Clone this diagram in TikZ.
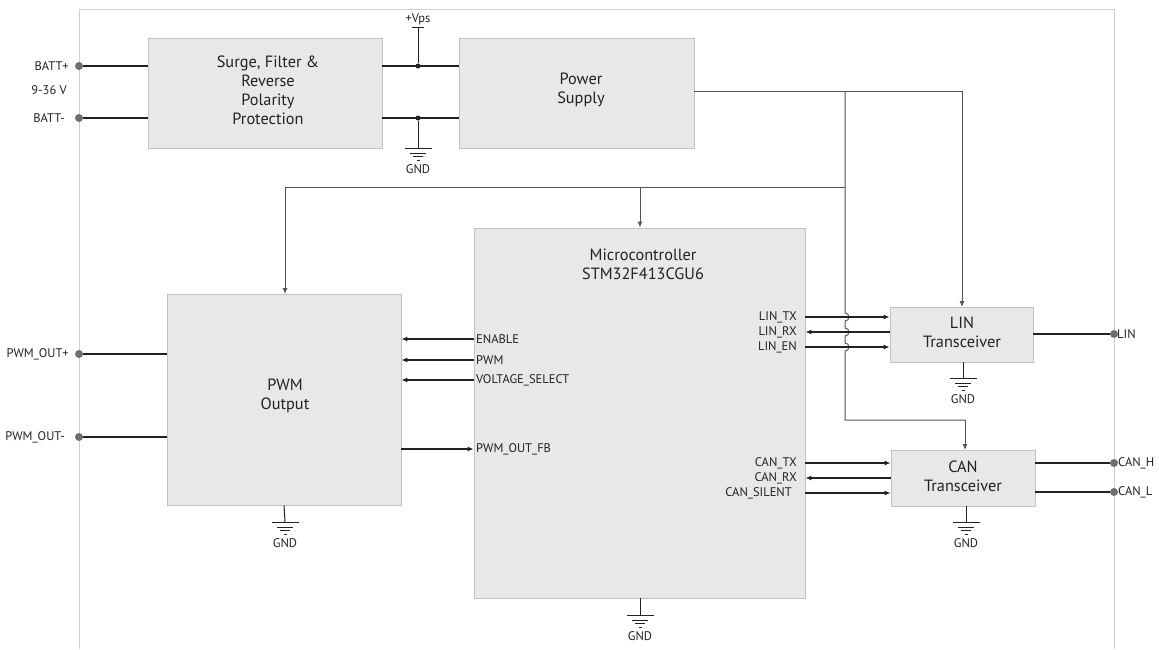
\documentclass[tikz,border=0pt]{standalone}
\usepackage{fontspec}
\setmainfont{PT Sans}
\usetikzlibrary{arrows.meta}
\definecolor{boxfill}{HTML}{E8E8E8}
\definecolor{boxline}{HTML}{C2C2C2}
\definecolor{wire}{HTML}{222222}
\definecolor{pwrwire}{HTML}{555555}
\definecolor{dotc}{HTML}{6E6E6E}
\definecolor{framec}{HTML}{CFCFCF}
\definecolor{txt}{HTML}{222222}
\begin{document}
\begin{tikzpicture}[x=1pt,y=-1pt,
  box/.style={draw=boxline, fill=boxfill, line width=0.8pt, inner sep=0pt, align=center, font=\fontsize{16}{19}\selectfont, text=txt},
  btext/.style={align=center, font=\fontsize{16.3}{19}\selectfont, text=txt, inner sep=0pt},
  lbl/.style={font=\fontsize{12.5}{14}\selectfont, text=txt, inner sep=1pt},
  dotn/.style={circle, fill=dotc, minimum size=8pt, inner sep=0pt},
  jdot/.style={circle, fill=wire, minimum size=5pt, inner sep=0pt},
  sig/.style={draw=wire, line width=1.4pt},
  pwr/.style={draw=pwrwire, line width=1pt},
  tipr/.style={-{Latex[length=6pt,width=5pt]}},
  gnd/.pic={
    \draw[wire, line width=0.9pt] (-13.5,0) -- (13.5,0) (-8,5) -- (8,5) (-5,8.5) -- (5,8.5) (-1.5,12) -- (1.5,12);
    \node[lbl] (-gl) at (0,21) {GND};
  }
]
\useasboundingbox (0,0) rectangle (1159,649);
% board frame
\draw[framec, line width=0.8pt] (79,649) -- (79,9) -- (1114,9) -- (1114,649);

% blocks
\node[box, minimum width=234pt, minimum height=110pt] (surge) at (265,93) {};
\node[btext] (surget) at (268,90) {Surge, Filter \&\\Reverse\\Polarity\\Protection};
\node[box, minimum width=235pt, minimum height=110pt] (ps) at (576.5,93) {};
\node[btext] (pst) at (581,90) {Power\\Supply};
\node[box, minimum width=331pt, minimum height=370pt] (mcu) at (639.5,413) {};
\node[btext] (mcut) at (643,264) {Microcontroller\\STM32F413CGU6};
\node[box, minimum width=234pt, minimum height=211pt] (pwmo) at (284,399.5) {};
\node[btext] (pwmt) at (285,396) {PWM\\Output};
\node[box, minimum width=143pt, minimum height=55pt] (lin) at (961.5,334.5) {};
\node[btext] (lint) at (962,332) {LIN\\Transceiver};
\node[box, minimum width=144pt, minimum height=56pt] (can) at (963,478) {};
\node[btext] (cant) at (963,476) {CAN\\Transceiver};

% terminals
\node[dotn] (battp) at (79,66) {};
\node[dotn] (battm) at (79,118) {};
\node[dotn] (pwmp) at (79,354) {};
\node[dotn] (pwmm) at (79,437) {};
\node[dotn] (linp) at (1114,334) {};
\node[dotn] (canh) at (1114,463) {};
\node[dotn] (canl) at (1114,492) {};
\node[lbl, anchor=east] (battpl) at (70,66) {BATT+};
\node[lbl, anchor=east] (voltl) at (68,90) {9-36 V};
\node[lbl, anchor=east] (battml) at (66,118) {BATT-};
\node[lbl, anchor=east] (pwmpl) at (70,354) {PWM\_OUT+};
\node[lbl, anchor=east] (pwmml) at (66,437) {PWM\_OUT-};
\node[lbl, anchor=west] (linl) at (1116,334) {LIN};
\node[lbl, anchor=west] (canhl) at (1117,463) {CAN\_H};
\node[lbl, anchor=west] (canll) at (1117,492) {CAN\_L};

% battery wires
\draw[sig] (battp) -- (battp -| surge.west);
\draw[sig] (battm) -- (battm -| surge.west);
% surge to power supply
\node[jdot] (jv) at (418,66) {};
\node[jdot] (jg) at (418,118) {};
\draw[sig] (jv -| surge.east) -- (jv -| ps.west);
\draw[sig] (jg -| surge.east) -- (jg -| ps.west);
\coordinate (vtop) at (418,27);
\draw[wire, line width=1pt] (jv) -- (vtop);
\draw[wire, line width=1pt] ([xshift=-6pt]vtop) -- ([xshift=6pt]vtop);
\node[lbl] (vpsl) at (418,19) {+Vps};
\pic (g1) at (418,148) {gnd};
\draw[wire, line width=1pt] (jg) -- (418,148);

% power distribution
\coordinate (pa) at (845,91);
\coordinate (pb) at (845,187);
\draw[pwr, tipr] ([yshift=2pt]ps.east) -- (962,91) -- (962,307);
\draw[pwr] (pa) -- (pb) -- (845,313) arc[start angle=-90,end angle=90,radius=4]
  -- (845,328) arc[start angle=-90,end angle=90,radius=4]
  -- (845,343) arc[start angle=-90,end angle=90,radius=4]
  -- (845,420) -- (965,420);
\draw[pwr, tipr] (965,420) -- (965,450);
\draw[pwr, tipr] (pb) -- (285,187) -- (285,294);
\draw[pwr, tipr] (640,187) -- (mcu.north -| 640,0);

% MCU <-> PWM output
\node[lbl, anchor=west] (enl) at (475,339) {ENABLE};
\node[lbl, anchor=west] (pwml) at (475,360) {PWM};
\node[lbl, anchor=west] (vsl) at (475,380) {VOLTAGE\_SELECT};
\node[lbl, anchor=west] (fbl) at (475,449) {PWM\_OUT\_FB};
\draw[sig, tipr] (enl.west -| mcu.west) -- (enl.west -| pwmo.east);
\draw[sig, tipr] (pwml.west -| mcu.west) -- (pwml.west -| pwmo.east);
\draw[sig, tipr] (vsl.west -| mcu.west) -- (vsl.west -| pwmo.east);
\draw[wire, line width=1.1pt, tipr] (fbl.west -| pwmo.east) -- (fbl.west -| mcu.west);
\draw[sig] (pwmp) -- (pwmp -| pwmo.west);
\draw[sig] (pwmm) -- (pwmm -| pwmo.west);
\pic (g2) at (285,522) {gnd};
\draw[wire, line width=1pt] (pwmo.south) -- (285,522);

% MCU <-> LIN
\node[lbl, anchor=east] (ltx) at (798,317) {LIN\_TX};
\node[lbl, anchor=east] (lrx) at (798,332) {LIN\_RX};
\node[lbl, anchor=east] (len) at (798,347) {LIN\_EN};
\draw[sig, tipr] (ltx.east -| mcu.east) -- (ltx.east -| lin.west);
\draw[sig, tipr] (lrx.east -| lin.west) -- (lrx.east -| mcu.east);
\draw[sig, tipr] (len.east -| mcu.east) -- (len.east -| lin.west);
\draw[sig] (linp -| lin.east) -- (linp);
\pic (g3) at (963,378) {gnd};
\draw[wire, line width=1pt] (lin.south -| 963,0) -- (963,378);

% MCU <-> CAN
\node[lbl, anchor=east] (ctx) at (798,463) {CAN\_TX};
\node[lbl, anchor=east] (crx) at (798,478) {CAN\_RX};
\node[lbl, anchor=east] (csl) at (793,493) {CAN\_SILENT};
\draw[sig, tipr] (ctx.east -| mcu.east) -- (ctx.east -| can.west);
\draw[sig, tipr] (crx.east -| can.west) -- (crx.east -| mcu.east);
\draw[sig, tipr] (csl.east -| mcu.east) -- (csl.east -| can.west);
\draw[sig] (canh -| can.east) -- (canh);
\draw[sig] (canl -| can.east) -- (canl);
\pic (g4) at (966,522) {gnd};
\draw[wire, line width=1pt] (can.south -| 966,0) -- (966,522);

% MCU ground
\pic (g5) at (640,615) {gnd};
\draw[wire, line width=1pt] (mcu.south -| 640,0) -- (640,615);
\end{tikzpicture}
\end{document}
